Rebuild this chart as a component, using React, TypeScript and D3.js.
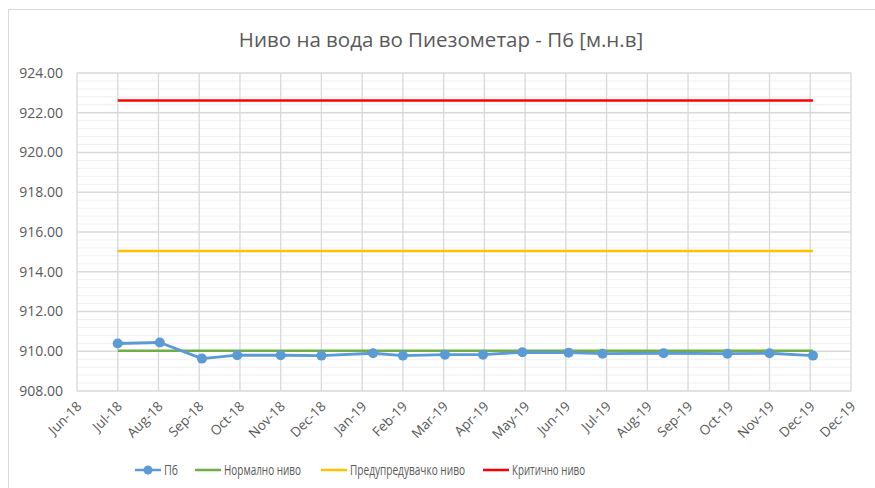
import React from "react";
import * as d3 from "d3";

// piezometer P6 readings
const readingDates = [
  "2018-07-09", "2018-08-09", "2018-09-09", "2018-10-05", "2018-11-06", "2018-12-06",
  "2019-01-13", "2019-02-04", "2019-03-07", "2019-04-04", "2019-05-03", "2019-06-06",
  "2019-07-01", "2019-08-15", "2019-10-01", "2019-11-01", "2019-12-03",
];
const p6Values = [
  910.39, 910.44, 909.63, 909.8, 909.8, 909.78,
  909.9, 909.78, 909.83, 909.83, 909.95, 909.93,
  909.88, 909.9, 909.88, 909.9, 909.78,
];
const normalLevel = 910.02;
const warningLevel = 915.05;
const criticalLevel = 922.62;

const axisStart = "2018-06-09";
const axisEnd = "2019-12-31";
const tickStepDays = 30;
const tickLabels = [
  "Jun-18", "Jul-18", "Aug-18", "Sep-18", "Oct-18", "Nov-18", "Dec-18",
  "Jan-19", "Feb-19", "Mar-19", "Apr-19", "May-19", "Jun-19", "Jul-19",
  "Aug-19", "Sep-19", "Oct-19", "Nov-19", "Dec-19", "Dec-19",
];
const yTicks = [908, 910, 912, 914, 916, 918, 920, 922, 924];

const title = "Ниво на вода во Пиезометар - П6 [м.н.в]";
const seriesNames = ["П6", "Нормално ниво", "Предупредувачко ниво", "Критично ниво"];
const seriesColors = ["#5B9BD5", "#70AD47", "#FFC000", "#FF0000"];

const W = 875;
const H = 488;
const FONT = "'Open Sans', 'DejaVu Sans', sans-serif";
const NARROW = "'Liberation Sans Narrow', 'Open Sans', sans-serif";

export default function App() {
  const parse = d3.utcParse("%Y-%m-%d");
  const dates = readingDates.map(d => parse(d) as Date);
  const start = parse(axisStart) as Date;
  const end = parse(axisEnd) as Date;

  const plot = {left: 77, right: 851, top: 73, bottom: 391};

  const x = d3.scaleUtc().domain([start, end]).range([plot.left, plot.right]);
  const y = d3.scaleLinear().domain([908, 924]).range([plot.bottom, plot.top]);

  const tickDates = tickLabels.map((_, i) => d3.utcDay.offset(start, i * tickStepDays));
  const minorTicks = d3.range(908, 924.0001, 0.4).filter(v => Math.abs(v - Math.round(v / 2) * 2) > 0.01);

  const line = d3.line<number>()
    .x((_, i) => x(dates[i]))
    .y(d => y(d));

  const first = dates[0];
  const last = dates[dates.length - 1];
  const levels = [normalLevel, warningLevel, criticalLevel];

  // legend layout (excel uses a narrow font here, so squeeze the text)
  const legendY = 470;
  const legendX = [135, 195, 321, 483];
  const legendTextW = [14, 77, 115, 73];

  return (
    <div style={{position: "absolute", left: 0, top: 0}}>
      <svg width={W} height={H} style={{display: "block", background: "white"}}>
        <rect x={8.5} y={9.5} width={W} height={H} fill="white" stroke="#d9d9d9" />

        <text x={441} y={47} textAnchor="middle" fontFamily={FONT} fontSize={20.5} fill="#595959">
          {title}
        </text>

        {/* minor gridlines */}
        {minorTicks.map((v, i) => (
          <line key={"m" + i} x1={plot.left} x2={plot.right} y1={y(v)} y2={y(v)} stroke="#f0f0f0" />
        ))}
        {/* major gridlines */}
        {yTicks.map(v => (
          <line key={"y" + v} x1={plot.left} x2={plot.right} y1={y(v)} y2={y(v)} stroke="#d9d9d9" strokeWidth={1.3} />
        ))}
        {tickDates.map((d, i) => (
          <line key={"x" + i} x1={x(d)} x2={x(d)} y1={plot.top} y2={plot.bottom} stroke="#d9d9d9" strokeWidth={1.3} />
        ))}

        {/* y labels */}
        {yTicks.map(v => (
          <text key={"yl" + v} x={63} y={y(v)} dy="0.35em" textAnchor="end" fontFamily={FONT} fontSize={14} fill="#595959">
            {v.toFixed(2)}
          </text>
        ))}

        {/* x labels */}
        {tickDates.map((d, i) => (
          <text key={"xl" + i} transform={`translate(${x(d) + 2},${plot.bottom + 13}) rotate(-45)`}
            textAnchor="end" dy="0.35em" fontFamily={FONT} fontSize={13.5} fill="#595959">
            {tickLabels[i]}
          </text>
        ))}

        {/* level lines */}
        {levels.map((v, i) => (
          <line key={"lv" + i} x1={x(first)} x2={x(last)} y1={y(v)} y2={y(v)}
            stroke={seriesColors[i + 1]} strokeWidth={2.5} />
        ))}

        {/* P6 series */}
        <path d={line(p6Values) || ""} fill="none" stroke={seriesColors[0]} strokeWidth={2.8} strokeLinejoin="round" />
        {p6Values.map((v, i) => (
          <circle key={"p" + i} cx={x(dates[i])} cy={y(v)} r={5} fill={seriesColors[0]} />
        ))}

        {/* legend */}
        {seriesNames.map((name, i) => (
          <g key={"lg" + i} transform={`translate(${legendX[i]},${legendY})`}>
            <line x1={0} x2={26} y1={0} y2={0} stroke={seriesColors[i]} strokeWidth={2.5} />
            {i === 0 && <circle cx={13} cy={0} r={4.5} fill={seriesColors[0]} />}
            <text x={29} y={0} dy="0.36em" fontFamily={NARROW} fontSize={15} fill="#595959"
              textLength={legendTextW[i]} lengthAdjust="spacingAndGlyphs">{name}</text>
          </g>
        ))}
      </svg>
    </div>
  );
}
